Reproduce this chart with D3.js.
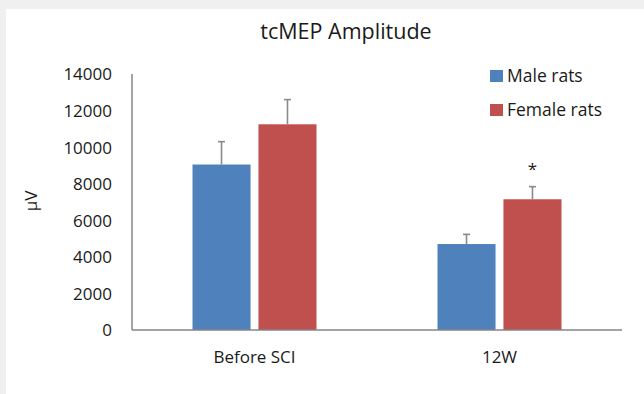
<!DOCTYPE html>
<html>
<head>
<meta charset="utf-8">
<script src="https://cdn.jsdelivr.net/npm/d3@7"></script>
<style>
  body { margin: 0; background: #f0f0f0; }
  svg { display: block; }
  text { font-family: "Open Sans", "Noto Sans", sans-serif; fill: #1a1a1a; }
</style>
</head>
<body>
<script>
// chart data
const categories = ["Before SCI", "12W"];
const seriesNames = ["Male rats", "Female rats"];
const maleValues = [9050, 4700];
const femaleValues = [11250, 7150];
const maleErrors = [1250, 530];
const femaleErrors = [1350, 690];
const yTicks = [0, 2000, 4000, 6000, 8000, 10000, 12000, 14000];
const starred = [{ category: "12W", series: "Female rats", label: "*" }];

const colors = { "Male rats": "#4f81bd", "Female rats": "#c0504d" };

let width = 644, height = 394;
let margin = { top: 74, bottom: 64, left: 132, right: 22 };

let svg = d3.select('body')
            .append('svg')
            .attr('width', width)
            .attr('height', height);

// white panel
svg.append('rect')
   .attr('x', 6).attr('y', 9)
   .attr('width', width - 6).attr('height', height - 9)
   .attr('fill', '#ffffff');

const rows = [];
categories.forEach((c, i) => {
    rows.push({ category: c, series: "Male rats", value: maleValues[i], err: maleErrors[i] });
    rows.push({ category: c, series: "Female rats", value: femaleValues[i], err: femaleErrors[i] });
});

const xScale = d3.scaleBand()
                 .domain(categories)
                 .range([margin.left, width - margin.right]);

const xInner = d3.scaleBand()
                 .domain(seriesNames)
                 .range([0, 124])
                 .paddingInner(0.12);

const innerOffset = (xScale.bandwidth() - 124) / 2;

const yScale = d3.scaleLinear()
                 .domain([0, 14000])
                 .range([height - margin.bottom, margin.top]);

// y axis (labels only)
let yAxis = svg.append('g')
               .attr('transform', `translate(${margin.left}, 0)`)
               .call(d3.axisLeft(yScale).tickValues(yTicks).tickSize(0).tickPadding(20).tickFormat(d3.format('d')));
yAxis.select('.domain').remove();
yAxis.selectAll('text')
     .style('font-size', '17px')
     .attr('fill', '#1a1a1a')
     .attr('dy', '0.35em');

// bars
svg.selectAll('rect.bar')
   .data(rows)
   .enter()
   .append('rect')
   .attr('class', 'bar')
   .attr('x', d => xScale(d.category) + innerOffset + xInner(d.series))
   .attr('y', d => yScale(d.value))
   .attr('width', xInner.bandwidth())
   .attr('height', d => yScale(0) - yScale(d.value))
   .attr('fill', d => colors[d.series]);

// error bars (upper only)
const errG = svg.append('g')
                .attr('stroke', '#8a8a8a')
                .attr('stroke-width', 1.6);
rows.forEach(d => {
    const cx = xScale(d.category) + innerOffset + xInner(d.series) + xInner.bandwidth() / 2;
    errG.append('line')
        .attr('x1', cx).attr('x2', cx)
        .attr('y1', yScale(d.value)).attr('y2', yScale(d.value + d.err));
    errG.append('line')
        .attr('x1', cx - 3.5).attr('x2', cx + 3.5)
        .attr('y1', yScale(d.value + d.err)).attr('y2', yScale(d.value + d.err));
});

// significance star
starred.forEach(s => {
    const d = rows.find(r => r.category === s.category && r.series === s.series);
    const cx = xScale(d.category) + innerOffset + xInner(d.series) + xInner.bandwidth() / 2;
    svg.append('text')
       .attr('x', cx)
       .attr('y', yScale(d.value + d.err) - 12)
       .attr('text-anchor', 'middle')
       .style('font-size', '17px')
       .text(s.label);
});

// axis lines
svg.append('line')
   .attr('x1', margin.left).attr('x2', margin.left)
   .attr('y1', yScale(14000)).attr('y2', yScale(0))
   .attr('stroke', '#868686').attr('stroke-width', 1.5);
svg.append('line')
   .attr('x1', margin.left).attr('x2', width - margin.right)
   .attr('y1', yScale(0)).attr('y2', yScale(0))
   .attr('stroke', '#868686').attr('stroke-width', 1.5);

// x category labels
svg.selectAll('text.cat')
   .data(categories)
   .enter()
   .append('text')
   .attr('class', 'cat')
   .attr('x', d => xScale(d) + xScale.bandwidth() / 2)
   .attr('y', 363)
   .attr('text-anchor', 'middle')
   .style('font-size', '17px')
   .text(d => d);

// title
svg.append('text')
   .attr('x', 346)
   .attr('y', 39)
   .attr('text-anchor', 'middle')
   .style('font-size', '21.5px')
   .text('tcMEP Amplitude');

// y-axis label
svg.append('text')
   .attr('transform', 'translate(37, 201) rotate(-90)')
   .attr('text-anchor', 'middle')
   .style('font-size', '17px')
   .text('µV');

// legend
const legend = svg.selectAll('.legend')
    .data(seriesNames)
    .enter().append('g')
    .attr('class', 'legend')
    .attr('transform', (d, i) => `translate(490, ${70 + i * 34})`);
legend.append('rect')
      .attr('width', 13).attr('height', 12)
      .attr('fill', d => colors[d]);
legend.append('text')
      .attr('x', 17).attr('y', 6)
      .attr('dy', '0.35em')
      .style('font-size', '17.5px')
      .text(d => d);
</script>
</body>
</html>
